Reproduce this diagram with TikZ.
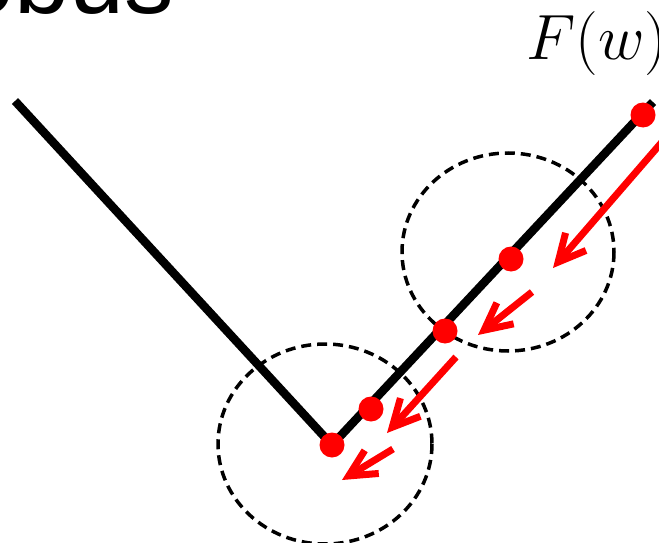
\RequirePackage{fix-cm}
\documentclass[tikz,border=0pt]{standalone}
\usepackage{fontspec}
\newfontfamily\titlefont{Liberation Sans}
\usetikzlibrary{arrows.meta}
\tikzset{
  curve/.style={line width=8.5pt, line cap=butt},
  pt/.style={circle, fill=red, inner sep=0pt, minimum size=25pt},
  ball/.style={dashed, line width=3.5pt, dash pattern=on 10pt off 6pt},
  grad/.style={red, line width=7pt, -{Straight Barb[length=27pt,width=27pt]}},
}
\begin{document}
\begin{tikzpicture}[x=1pt,y=-1pt]
\clip (0,0) rectangle (659,543);
\useasboundingbox (0,0) rectangle (659,543);
% cut title text
\node[anchor=base west, inner sep=0pt, font=\titlefont\fontsize{99}{110}\selectfont] (title) at (-41,14) {obus};
% label
\node[anchor=base west, inner sep=0pt, font=\fontsize{64}{72}\selectfont] (lab) at (526,60) {$F(w)$};
% function
\coordinate (L) at (15,101);
\coordinate (V) at (332,445);
\coordinate (R) at (653,102);
\draw[curve, line join=miter] (L) -- (V) -- (R);
% dashed balls
\draw[ball] (508,252) ellipse [x radius=106, y radius=99];
\draw[ball] (325,444) ellipse [x radius=107, y radius=100];
% gradient arrows
\coordinate (a1s) at (662,142); \coordinate (a1e) at (553,268);
\coordinate (a2s) at (532,292); \coordinate (a2e) at (478,335);
\coordinate (a3s) at (456,357); \coordinate (a3e) at (387,433);
\coordinate (a4s) at (393,449); \coordinate (a4e) at (342,480);
\draw[grad] (a1s) -- (a1e);
\draw[grad] (a2s) -- (a2e);
\draw[grad] (a3s) -- (a3e);
\draw[grad] (a4s) -- (a4e);
% iterates
\node[pt] (p1) at (643,115) {};
\node[pt] (p2) at (511,259) {};
\node[pt] (p3) at (445,331) {};
\node[pt] (p4) at (371,409) {};
\node[pt] (p5) at (V) {};
\end{tikzpicture}
\end{document}
